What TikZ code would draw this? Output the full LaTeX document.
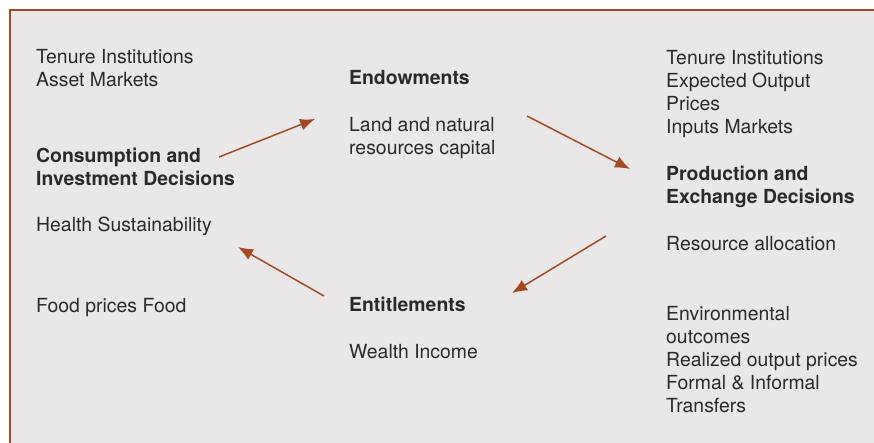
\documentclass[tikz,border=0pt]{standalone}
\usepackage{fontspec}
\setmainfont{TeX Gyre Heros}
\usetikzlibrary{arrows.meta}
\definecolor{rust}{HTML}{A34A22}
\definecolor{panel}{HTML}{EAE7E8}
\definecolor{ink}{HTML}{2A2A2A}

\begin{document}
\begin{tikzpicture}[x=1pt,y=-1pt,every node/.style={anchor=base west,inner
sep=0,align=left,text=ink,font=\fontsize{19.4}{23}\selectfont},
hd/.style={font=\fontsize{19.4}{23}\selectfont\bfseries},
flow/.style={draw=rust,line width=1.5pt,-{Latex[length=15pt,width=12pt]}}]
\useasboundingbox (0,0) rectangle (874,443);
\clip (0,0) rectangle (874,443);
\fill[white] (0,0) rectangle (874,443);
\draw[rust,fill=panel,line width=2pt] (10,10) rectangle (890,460);

% left column (base = last line)
\node (tl) at (36,87) {Tenure Institutions\\Asset Markets};
\node[hd] (cons) at (36,186) {Consumption and\\Investment Decisions};
\node (health) at (36,232) {Health Sustainability};
\node (food) at (36,312) {Food prices Food};

% middle column
\node[hd] (endow) at (349,85) {Endowments};
\node (land) at (349,155) {Land and natural\\resources capital};
\node[hd] (entit) at (349,311) {Entitlements};
\node (wealth) at (349,358) {Wealth Income};

% right column
\node (tr) at (666,134) {Tenure Institutions\\Expected Output\\Prices\\Inputs Markets};
\node[hd] (prod) at (666,204) {Production and\\Exchange Decisions};
\node (alloc) at (666,251) {Resource allocation};
\node (env) at (666,412) {Environmental\\outcomes\\Realized output prices\\Formal \& Informal\\Transfers};

\coordinate (c-e1) at (219,157);
\coordinate (c-e2) at (315,119);
\coordinate (e-p1) at (527,116);
\coordinate (e-p2) at (630,169);
\coordinate (p-n1) at (606,236);
\coordinate (p-n2) at (512,293);
\coordinate (n-c1) at (324,296);
\coordinate (n-c2) at (238,247);

\draw[flow] (c-e1) -- (c-e2);
\draw[flow] (e-p1) -- (e-p2);
\draw[flow] (p-n1) -- (p-n2);
\draw[flow] (n-c1) -- (n-c2);

\end{tikzpicture}
\end{document}
